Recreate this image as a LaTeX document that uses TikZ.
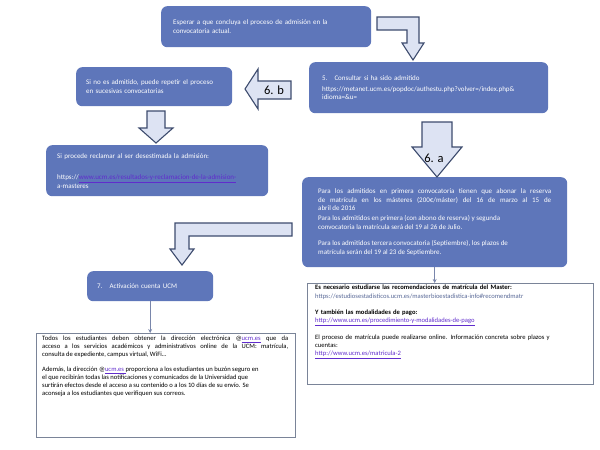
\documentclass[tikz,border=0pt]{standalone}
\usepackage{fontspec}
\setmainfont{Carlito}
\usetikzlibrary{arrows.meta}
\definecolor{boxblue}{RGB}{94,118,186}
\definecolor{arrowfill}{RGB}{221,227,243}
\definecolor{arrowline}{RGB}{62,76,110}
\definecolor{frameline}{RGB}{122,132,152}
\definecolor{linkpurple}{RGB}{96,44,204}
\definecolor{urlgray}{RGB}{88,104,150}
\newcommand{\lnk}[1]{\textcolor{linkpurple}{\underline{#1}}}
\begin{document}
\begin{tikzpicture}[x=1pt,y=-1pt,
  bluebox/.style = {fill=boxblue, rounded corners=6pt, text=white, anchor=north west, align=left, inner ysep=0pt, font=\fontsize{7}{8.5}\selectfont},
  blockarrow/.style = {fill=arrowfill, draw=arrowline, line width=1.1pt, line join=miter},
  framebox/.style = {draw=frameline, line width=0.8pt},
  thinarrow/.style = {draw=urlgray!80, line width=0.8pt, -{Stealth[length=4pt,width=4pt]}},
  steplabel/.style = {font=\fontsize{12.5}{13}\selectfont, text=black}]
\useasboundingbox (0,0) rectangle (600,450);
				\begin{scope}[every node/.style={bluebox}]
					\node[minimum width=210pt, minimum height=41pt, inner xsep=12pt, text width=186pt] (wait) at (161,6) {Esperar a que concluya el proceso de admisión en la\\convocatoria actual.};
					\node[minimum width=239pt, minimum height=51pt, inner xsep=13pt, text width=213pt] (consult) at (309,62) {5.\hspace{1em}Consultar si ha sido admitido\\[2.5pt]https://metanet.ucm.es/popdoc/authestu.php?volver=/index.php\&\\idioma=\&u=};
					\node[minimum width=156pt, minimum height=39pt, inner xsep=10pt, text width=136pt] (noadm) at (76,67) {Si no es admitido, puede repetir el proceso\\en sucesivas convocatorias};
					\node[minimum width=222pt, minimum height=51pt, inner xsep=11pt, text width=200pt] (reclamar) at (46,145) {Si procede reclamar al ser desestimada la admisión:\\[13pt]https://\lnk{www.ucm.es/resultados-y-reclamacion-de-la-admision-}\\a-masteres};
					\node[minimum width=265pt, minimum height=90pt, inner xsep=14pt, text width=233pt, align=justify] (plazos) at (302,177) {Para los admitidos en primera convocatoria tienen que abonar la reserva\linebreak de matrícula en los másteres (200€/máster) del 16 de marzo al 15 de\linebreak abril de 2016\par\vspace{1.5pt}Para los admitidos en primera (con abono de reserva) y segunda\\convocatoria la matrícula será del 19 al 26 de Julio.\par\vspace{8pt}Para los admitidos tercera convocatoria (Septiembre), los plazos de\\matrícula serán del 19 al 23 de Septiembre.};
					\node[minimum width=126pt, minimum height=30pt, inner xsep=10pt, text width=106pt] (activ) at (87,271) {7.\hspace{1em}Activación cuenta UCM};
				\end{scope}
				% white boxes
				\node[framebox, anchor=north west, minimum width=259pt, minimum height=104pt] (cuenta) at (36,333) {};
				\node[anchor=north west, inner sep=0pt, text width=246pt, align=justify, font=\fontsize{6.6}{7.8}\selectfont] (cuentatxt) at (42,336) {Todos los estudiantes deben obtener la dirección electrónica @\lnk{ucm.es} que da\linebreak acceso a los servicios académicos y administrativos online de la UCM: matrícula,\linebreak consulta de expediente, campus virtual, WiFi…\par\vspace{7.8pt}Además, la dirección @\lnk{ucm.es }proporciona a los estudiantes un buzón seguro en\\el que recibirán todas las notificaciones y comunicados de la Universidad que\\surtirán efectos desde el acceso a su contenido o a los 10 días de su envío. Se\\aconseja a los estudiantes que verifiquen sus correos.};
				\node[framebox, anchor=north west, minimum width=286pt, minimum height=101pt] (matricula) at (307,283) {};
				\node[anchor=north west, inner sep=0pt, text width=276pt, align=left, font=\fontsize{6.6}{8.3}\selectfont] (matriculatxt) at (315,285) {\textbf{Es necesario estudiarse las recomendaciones de matrícula del Master:}\\\textcolor{urlgray}{https://estudiosestadisticos.ucm.es/masterbioestadistica-info\#recomendmatr}\\[8pt]\textbf{Y también las modalidades de pago:}\\\lnk{http://www.ucm.es/procedimiento-y-modalidades-de-pago}\\[8pt]El proceso de matrícula puede realizarse online. Información concreta sobre plazos y\\cuentas:\\\lnk{http://www.ucm.es/matricula-2}};
				% block arrows
				\draw[blockarrow] (377,17) -- (419,17) -- (419,43) -- (424,43) -- (413,60) -- (402,43) -- (407,43) -- (407,30) -- (377,30) -- cycle;
				\draw[blockarrow] (291,81) -- (258,81) -- (258,69) -- (245,89) -- (258,109) -- (258,99) -- (291,99) -- cycle;
				\node[steplabel] (sixb) at (274,90) {6. b};
				\draw[blockarrow] (147,111) -- (165,111) -- (165,128) -- (173,128) -- (156,143) -- (139,128) -- (147,128) -- cycle;
				\draw[blockarrow] (422,122) -- (452,122) -- (452,147) -- (462,147) -- (437,177) -- (412,147) -- (422,147) -- cycle;
				\node[steplabel] (sixa) at (434,158) {6. a};
				\draw[blockarrow] (292,223) -- (175,223) -- (175,249) -- (170,249) -- (182,265) -- (194,249) -- (189,249) -- (189,236) -- (292,236) -- cycle;
				% thin connectors
				\draw[thinarrow] (activ.south) -- (activ.south |- cuenta.north);
				\draw[thinarrow] (plazos.south) -- (plazos.south |- matricula.north);
\end{tikzpicture}
\end{document}
